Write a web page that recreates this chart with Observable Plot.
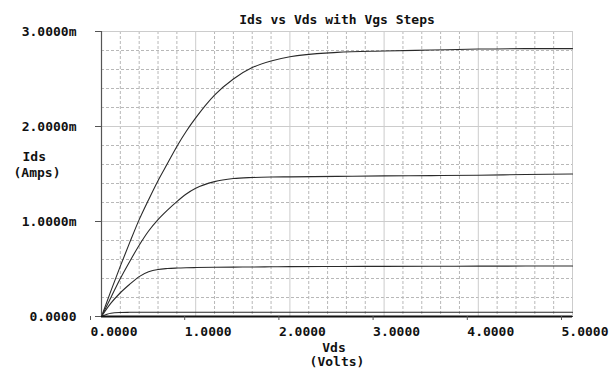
<!DOCTYPE html>
<html>
<head>
<meta charset="utf-8">
<script src="https://cdn.jsdelivr.net/npm/d3@7"></script>
<script src="https://cdn.jsdelivr.net/npm/@observablehq/plot@0.6"></script>
<style>
  html, body { margin: 0; padding: 0; background: #fff; }
  #chart svg { display: block; }
</style>
</head>
<body>
<div id="chart"></div>
<script>
// Vds sweep points (Volts)
const vds = [0, 0.1, 0.2, 0.3, 0.4, 0.5, 0.6, 0.7, 0.8, 0.9, 1.0, 1.2, 1.4, 1.6, 1.8, 2.0, 2.5, 3.0, 3.5, 4.0, 4.5, 5.0];
// Ids per Vgs step (mA)
const idsStep1 = [0, 0, 0, 0, 0, 0, 0, 0, 0, 0, 0, 0, 0, 0, 0, 0, 0, 0, 0, 0, 0, 0];
const idsStep2 = [0, 0.035, 0.042, 0.044, 0.045, 0.045, 0.045, 0.045, 0.045, 0.045, 0.045, 0.045, 0.045, 0.045, 0.045, 0.045, 0.045, 0.045, 0.045, 0.045, 0.045, 0.045];
const idsStep3 = [0, 0.14, 0.25, 0.34, 0.42, 0.47, 0.495, 0.505, 0.51, 0.513, 0.515, 0.518, 0.52, 0.521, 0.523, 0.525, 0.527, 0.528, 0.529, 0.53, 0.531, 0.532];
const idsStep4 = [0, 0.20, 0.40, 0.58, 0.75, 0.90, 1.02, 1.12, 1.21, 1.29, 1.35, 1.42, 1.452, 1.463, 1.468, 1.47, 1.475, 1.48, 1.483, 1.487, 1.495, 1.50];
const idsStep5 = [0, 0.27, 0.53, 0.78, 1.02, 1.23, 1.43, 1.61, 1.79, 1.95, 2.09, 2.33, 2.50, 2.62, 2.69, 2.735, 2.78, 2.795, 2.805, 2.815, 2.82, 2.82];
const steps = ["step1", "step2", "step3", "step4", "step5"];
const series = [idsStep1, idsStep2, idsStep3, idsStep4, idsStep5];

const xMajor = [0, 1, 2, 3, 4, 5];
const yMajor = [0, 1, 2, 3];
const xMinor = [0.2,0.4,0.6,0.8,1.2,1.4,1.6,1.8,2.2,2.4,2.6,2.8,3.2,3.4,3.6,3.8,4.2,4.4,4.6,4.8];
const yMinor = [0.2,0.4,0.6,0.8,1.2,1.4,1.6,1.8,2.2,2.4,2.6,2.8];

const titleText = "Ids vs Vds with Vgs Steps";
const xLabel1 = "Vds", xLabel2 = "(Volts)";
const yLabel1 = "Ids", yLabel2 = "(Amps)";

const data = [];
series.forEach((s, k) => s.forEach((v, i) => data.push({vds: vds[i], ids: v, step: steps[k]})));

const chart = Plot.plot({
  width: 611,
  height: 370,
  marginLeft: 101,
  marginRight: 39,
  marginTop: 31,
  marginBottom: 54,
  style: {fontFamily: "'DejaVu Sans Mono', monospace", fontSize: "13px", fontWeight: "bold", color: "#111", background: "#fff"},
  x: {domain: [0, 5], label: null},
  y: {domain: [0, 3], label: null},
  marks: [
    Plot.ruleX(xMinor, {stroke: "#b8b8b8", strokeDasharray: "3,2", strokeWidth: 1}),
    Plot.ruleY(yMinor, {stroke: "#b8b8b8", strokeDasharray: "3,2", strokeWidth: 1}),
    Plot.ruleX(xMajor, {stroke: "#cccccc", strokeWidth: 1}),
    Plot.ruleY(yMajor, {stroke: "#cccccc", strokeWidth: 1}),
    Plot.line(data, {x: "vds", y: "ids", z: "step", stroke: "#2a2a2a", strokeWidth: 1.1, curve: "monotone-x"}),
    Plot.ruleX([0], {stroke: "#555", strokeWidth: 1.2}),
    Plot.ruleY([0], {stroke: "#111", strokeWidth: 2}),
    Plot.axisY({ticks: yMajor, tickSize: 6, tickPadding: 19, stroke: "#555", label: null,
      tickFormat: d => d === 0 ? "0.0000" : d.toFixed(4) + "m", fontSize: 13}),
    Plot.axisX({ticks: xMajor, tickSize: 4, tickPadding: 6, stroke: "#555", label: null,
      textAnchor: "start", dx: -11, tickFormat: d => d.toFixed(4), fontSize: 13}),
    Plot.text([titleText], {frameAnchor: "top", dy: -17, text: d => d, fontSize: 13}),
    Plot.text([xLabel1], {frameAnchor: "bottom", dy: 35, dx: -3, text: d => d, fontSize: 13}),
    Plot.text([xLabel2], {frameAnchor: "bottom", dy: 49, text: d => d, fontSize: 13}),
    Plot.text([yLabel1], {frameAnchor: "left", textAnchor: "start", dx: -79, dy: -17, text: d => d, fontSize: 13}),
    Plot.text([yLabel2], {frameAnchor: "left", textAnchor: "start", dx: -88, dy: -1, text: d => d, fontSize: 13})
  ]
});
document.getElementById("chart").appendChild(chart);
</script>
</body>
</html>
